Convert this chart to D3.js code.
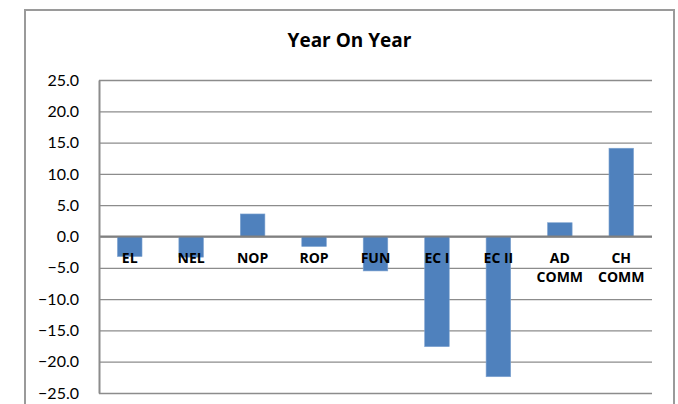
<!DOCTYPE html>
<html>
<head>
<meta charset="utf-8">
<script src="https://cdn.jsdelivr.net/npm/d3@7"></script>
<style>
  html, body { margin: 0; padding: 0; background: #fff; }
  svg { display: block; }
</style>
</head>
<body>
<svg id="chart" width="678" height="404"></svg>
<script>
const title = "Year On Year";
const categories = ["EL", "NEL", "NOP", "ROP", "FUN", "EC I", "EC II", "AD COMM", "CH COMM"];
const values = [-3.2, -3.3, 3.6, -1.6, -5.5, -17.6, -22.4, 2.2, 14.1];
const yTicks = [25, 20, 15, 10, 5, 0, -5, -10, -15, -20, -25];

const svg = d3.select("#chart");
const plot = { left: 99, right: 652, top: 80, bottom: 393 };
const font = "Lato, 'Open Sans', sans-serif";
const boldFont = "'Open Sans', Lato, sans-serif";

// outer chart border
svg.append("rect")
  .attr("x", 25).attr("y", 10)
  .attr("width", 649).attr("height", 420)
  .attr("fill", "#fff")
  .attr("stroke", "#9a9a9a").attr("stroke-width", 2);

svg.append("text")
  .attr("x", 349.5).attr("y", 47)
  .attr("text-anchor", "middle")
  .attr("font-family", boldFont).attr("font-weight", "bold")
  .attr("font-size", 19).attr("fill", "#000")
  .text(title);

const x = d3.scaleBand().domain(categories).range([plot.left, plot.right]).paddingInner(0.6).paddingOuter(0.3);
const y = d3.scaleLinear().domain([-25, 25]).range([plot.bottom, plot.top]);

// gridlines
const grid = svg.append("g").attr("transform", `translate(${plot.left},0)`)
  .call(d3.axisLeft(y).tickValues(yTicks).tickSize(-(plot.right - plot.left)).tickFormat(""));
grid.select(".domain").remove();
grid.selectAll(".tick line").attr("stroke", "#8c8c8c").attr("stroke-width", 1.3);

// bars
svg.append("g").selectAll("rect").data(values).join("rect")
  .attr("x", (d, i) => x(categories[i]))
  .attr("width", x.bandwidth())
  .attr("y", d => y(Math.max(0, d)))
  .attr("height", d => Math.abs(y(d) - y(0)))
  .attr("fill", "#4f81bd")
  .attr("stroke", "#7fa3d0").attr("stroke-width", 0.6);

// zero line
svg.append("line")
  .attr("x1", plot.left).attr("x2", plot.right)
  .attr("y1", y(0)).attr("y2", y(0))
  .attr("stroke", "#808080").attr("stroke-width", 2);

// y axis
const yAxis = svg.append("g").attr("transform", `translate(${plot.left},0)`)
  .call(d3.axisLeft(y).tickValues(yTicks).tickSize(0).tickPadding(20).tickFormat(d3.format(".1f")));
yAxis.select(".domain").attr("stroke", "#8c8c8c").attr("stroke-width", 2);
yAxis.selectAll("text")
  .attr("font-family", font).attr("font-size", 16).attr("fill", "#000");

// category labels
const lab = svg.append("g").selectAll("text").data(categories).join("text")
  .attr("x", d => x(d) + x.bandwidth() / 2)
  .attr("y", 263)
  .attr("text-anchor", "middle")
  .attr("font-family", boldFont).attr("font-weight", "bold")
  .attr("font-size", 14).attr("fill", "#000");
lab.each(function(d) {
  const parts = d.includes("COMM") ? d.split(" ") : [d];
  const t = d3.select(this);
  parts.forEach((p, k) => {
    t.append("tspan").attr("x", x(d) + x.bandwidth() / 2).attr("dy", k === 0 ? 0 : 19).text(p);
  });
});
</script>
</body>
</html>
